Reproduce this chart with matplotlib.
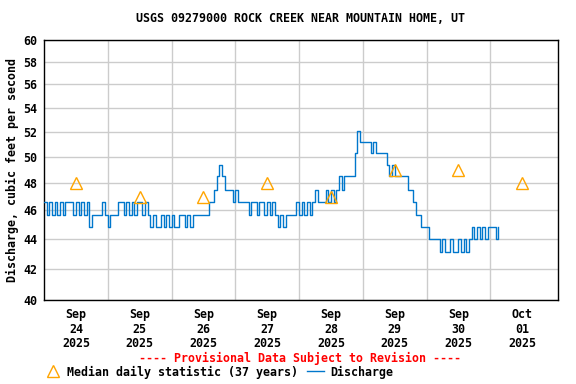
import matplotlib
matplotlib.use("Agg")
import matplotlib.pyplot as plt
from matplotlib.lines import Line2D
from matplotlib.ticker import FixedLocator, FixedFormatter, NullLocator
import pandas as pd

# hourly discharge (cfs) starting 2025-09-24 00:00
flow_sep24 = [46.6, 45.7, 46.6, 45.7, 46.6, 45.7, 46.6, 45.7, 46.6, 46.6, 46.6, 45.7,
              46.6, 45.7, 46.6, 45.7, 46.6, 44.8, 45.7, 45.7, 45.7, 45.7, 46.6, 45.7]
flow_sep25 = [44.8, 45.7, 45.7, 45.7, 46.6, 46.6, 45.7, 46.6, 45.7, 46.6, 45.7, 46.6,
              46.6, 45.7, 46.6, 45.7, 44.8, 45.7, 44.8, 44.8, 45.7, 44.8, 45.7, 44.8]
flow_sep26 = [45.7, 44.8, 44.8, 45.7, 45.7, 44.8, 45.7, 44.8, 45.7, 45.7, 45.7, 45.7,
              45.7, 45.7, 46.6, 46.6, 47.5, 48.5, 49.4, 48.5, 47.5, 47.5, 47.5, 46.6]
flow_sep27 = [47.5, 46.6, 46.6, 46.6, 46.6, 45.7, 46.6, 46.6, 45.7, 46.6, 46.6, 45.7,
              46.6, 45.7, 46.6, 45.7, 44.8, 45.7, 44.8, 45.7, 45.7, 45.7, 45.7, 46.6]
flow_sep28 = [45.7, 46.6, 45.7, 46.6, 45.7, 46.6, 47.5, 46.6, 46.6, 46.6, 47.5, 46.6,
              47.5, 46.6, 47.5, 48.5, 47.5, 48.5, 48.5, 48.5, 48.5, 50.3, 52.1, 51.2]
flow_sep29 = [51.2, 51.2, 51.2, 50.3, 51.2, 50.3, 50.3, 50.3, 50.3, 49.4, 48.5, 49.4,
              48.5, 48.5, 48.5, 48.5, 48.5, 47.5, 47.5, 46.6, 45.7, 45.7, 44.8, 44.8]
flow_sep30 = [44.8, 44.0, 44.0, 44.0, 44.0, 43.1, 44.0, 43.1, 43.1, 44.0, 43.1, 43.1,
              44.0, 43.1, 44.0, 43.1, 44.0, 44.8, 44.0, 44.8, 44.0, 44.8, 44.0, 44.8]
flow_oct01 = [44.8, 44.8, 44.0, 44.8]

median_days = ["2025-09-24", "2025-09-25", "2025-09-26", "2025-09-27",
               "2025-09-28", "2025-09-29", "2025-09-30", "2025-10-01"]
median_vals = [48, 47, 47, 48, 47, 49, 49, 48]

day_labels = ["Sep\n24\n2025", "Sep\n25\n2025", "Sep\n26\n2025", "Sep\n27\n2025",
              "Sep\n28\n2025", "Sep\n29\n2025", "Sep\n30\n2025", "Oct\n01\n2025"]
y_ticks = [40, 42, 44, 46, 48, 50, 52, 54, 56, 58, 60]

flow = flow_sep24 + flow_sep25 + flow_sep26 + flow_sep27 + flow_sep28 + flow_sep29 + flow_sep30 + flow_oct01
times = pd.date_range("2025-09-24 00:00", periods=len(flow), freq="h")
noons = pd.to_datetime(median_days) + pd.Timedelta(hours=12)
midnights = pd.date_range("2025-09-25", "2025-10-01", freq="D")

blue = "#0077cc"
orange = "#ffa500"
font = dict(family="DejaVu Sans Mono", weight="bold", size=8.4)

fig = plt.figure(figsize=(5.76, 3.84), dpi=100)
ax = fig.add_axes([44 / 576, 1 - 300 / 384, 514 / 576, 260 / 384])

ax.plot(times, flow, color=blue, lw=1, drawstyle="steps-post", zorder=3)
ax.plot(noons, median_vals, ls="none", marker="^", ms=8, mfc="none", mec=orange, mew=1, zorder=4)

ax.set_yscale("log")
ax.set_ylim(40, 60)
ax.yaxis.set_major_locator(FixedLocator(y_ticks))
ax.yaxis.set_major_formatter(FixedFormatter([str(v) for v in y_ticks]))
ax.yaxis.set_minor_locator(NullLocator())

ax.set_xlim(pd.Timestamp("2025-09-24 00:00"), pd.Timestamp("2025-10-02 01:30"))
ax.set_xticks(noons)
ax.set_xticklabels(day_labels, linespacing=1.12)
ax.set_xticks(midnights, minor=True)

ax.grid(True, axis="y", which="major", color="#cccccc", lw=1)
ax.grid(True, axis="x", which="minor", color="#cccccc", lw=1)
ax.grid(False, axis="x", which="major")
ax.tick_params(axis="both", which="both", length=0)
ax.tick_params(axis="y", pad=5)
ax.tick_params(axis="x", pad=6)
for lab in ax.get_xticklabels() + ax.get_yticklabels():
    lab.set_fontproperties(font)
for sp in ax.spines.values():
    sp.set_color("black")
    sp.set_linewidth(1)

ax.set_ylabel("Discharge, cubic feet per second", fontdict=font, labelpad=3)
fig.text(300 / 576, 1 - 19 / 384, "USGS 09279000 ROCK CREEK NEAR MOUNTAIN HOME, UT",
         ha="center", va="center", **font)
fig.text(300 / 576, 1 - 358 / 384, "---- Provisional Data Subject to Revision ----",
         ha="center", va="center", color="red", **font)

handles = [Line2D([], [], ls="none", marker="^", ms=8, mfc="none", mec=orange, mew=1),
           Line2D([], [], color=blue, lw=1)]
fig.legend(handles, ["Median daily statistic (37 years)", "Discharge"],
           loc="center left", bbox_to_anchor=(44 / 576, 1 - 372 / 384), ncol=2,
           frameon=False, handlelength=1.5, handletextpad=0.5, columnspacing=0.7,
           borderpad=0, borderaxespad=0, prop=font)

fig.savefig("out.png", dpi=100)
